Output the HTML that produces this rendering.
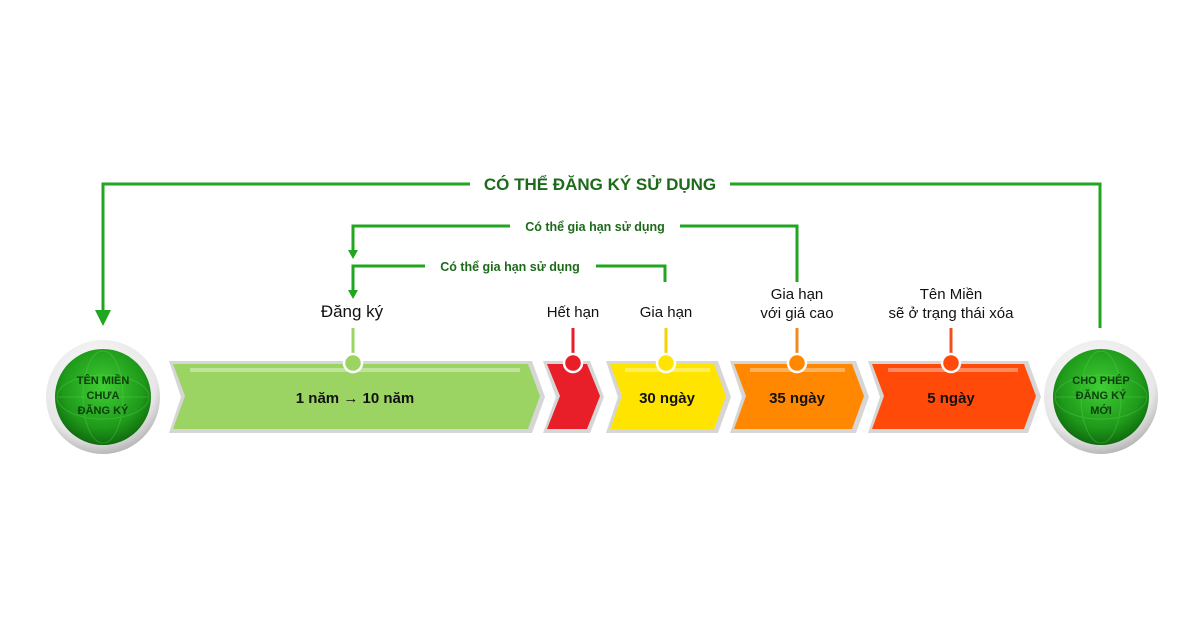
<!DOCTYPE html>
<html><head><meta charset="utf-8"><style>
html,body{margin:0;padding:0;background:#fff;width:1200px;height:630px;overflow:hidden}
text{font-family:"Liberation Sans","DejaVu Sans",sans-serif}
</style></head><body>
<svg width="1200" height="630" viewBox="0 0 1200 630" xmlns="http://www.w3.org/2000/svg">
<defs>
<radialGradient id="g" cx="50%" cy="40%" r="60%">
<stop offset="0" stop-color="#3fcf35"/><stop offset="0.7" stop-color="#1f9a1a"/><stop offset="1" stop-color="#0f6a0e"/></radialGradient>
<radialGradient id="ring" cx="45%" cy="35%" r="65%">
<stop offset="0" stop-color="#ffffff"/><stop offset="0.8" stop-color="#e6e6e6"/><stop offset="1" stop-color="#b8b8b8"/></radialGradient>
</defs>
<g stroke="#22a61f" stroke-width="3" fill="none">
<polyline points="103,310 103,184 470,184"/>
<polyline points="730,184 1100,184 1100,328"/>
<polyline points="353,250 353,226 510,226"/>
<polyline points="680,226 797,226 797,282"/>
<polyline points="353,290 353,266 425,266"/>
<polyline points="596,266 665,266 665,282"/>
</g>
<g fill="#22a61f">
<polygon points="95,310 111,310 103,326"/>
<polygon points="348,250 358,250 353,259"/>
<polygon points="348,290 358,290 353,299"/>
</g>
<text x="600" y="190" text-anchor="middle" font-size="17" font-weight="bold" fill="#1d6a1b">CÓ THỂ ĐĂNG KÝ SỬ DỤNG</text>
<text x="595" y="231" text-anchor="middle" font-size="12.5" font-weight="bold" fill="#1d6a1b">Có thể gia hạn sử dụng</text>
<text x="510" y="271" text-anchor="middle" font-size="12.5" font-weight="bold" fill="#1d6a1b">Có thể gia hạn sử dụng</text>

<g font-size="15" fill="#111" text-anchor="middle">
<text x="352" y="317" font-size="17">Đăng ký</text>
<text x="573" y="317">Hết hạn</text>
<text x="666" y="317">Gia hạn</text>
<text x="797" y="299">Gia hạn</text>
<text x="797" y="318">với giá cao</text>
<text x="951" y="299">Tên Miền</text>
<text x="951" y="318">sẽ ở trạng thái xóa</text>
</g>

<!-- arrow shadows -->
<g fill="#d6d6d6">
<polygon points="169,361 532,361 545,397 532,433 169,433 181,397"/>
<polygon points="543,361 590,361 604,397 590,433 543,433 556,397"/>
<polygon points="606,361 718,361 731,397 718,433 606,433 618,397"/>
<polygon points="730,361 856,361 869,397 856,433 730,433 742,397"/>
<polygon points="868,361 1028,361 1041,397 1028,433 868,433 880,397"/>
</g>
<polygon points="173,364 528,364 540,396 528,429 173,429 185,396" fill="#9cd464"/>
<polygon points="547,364 587,364 600,396 587,429 547,429 560,396" fill="#e81e28"/>
<polygon points="610,364 714,364 726,396 714,429 610,429 622,396" fill="#ffe400"/>
<polygon points="734,364 852,364 864,396 852,429 734,429 746,396" fill="#ff8800"/>
<polygon points="872,364 1024,364 1036,396 1024,429 872,429 884,396" fill="#ff4a0a"/>
<g fill="#ffffff" opacity="0.35">
<rect x="190" y="368" width="330" height="4"/>
<rect x="625" y="368" width="85" height="4"/>
<rect x="750" y="368" width="95" height="4"/>
<rect x="888" y="368" width="130" height="4"/>
</g>
<g font-size="15" font-weight="bold" fill="#111" text-anchor="middle">
<text x="355" y="403">1 năm → 10 năm</text>
<text x="667" y="403">30 ngày</text>
<text x="797" y="403">35 ngày</text>
<text x="951" y="403">5 ngày</text>
</g>

<!-- stems -->
<g stroke-width="3">
<line x1="353" y1="328" x2="353" y2="360" stroke="#9cd464"/>
<line x1="573" y1="328" x2="573" y2="360" stroke="#e81e28"/>
<line x1="666" y1="328" x2="666" y2="360" stroke="#f0d400"/>
<line x1="797" y1="328" x2="797" y2="360" stroke="#ee8a20"/>
<line x1="951" y1="328" x2="951" y2="360" stroke="#ee5020"/>
</g>
<g stroke="#fff" stroke-width="2.5">
<circle cx="353" cy="363" r="9" fill="#9cd464"/>
<circle cx="573" cy="363" r="9" fill="#e81e28"/>
<circle cx="666" cy="363" r="9" fill="#ffe400"/>
<circle cx="797" cy="363" r="9" fill="#ff8800"/>
<circle cx="951" cy="363" r="9" fill="#ff4a0a"/>
</g>

<!-- circles -->
<g>
<circle cx="103" cy="397" r="57" fill="url(#ring)"/>
<circle cx="103" cy="397" r="48" fill="url(#g)"/>
<g stroke="#5fd857" stroke-width="1" fill="none" opacity="0.35">
<ellipse cx="103" cy="397" rx="20" ry="46"/><line x1="57" y1="397" x2="149" y2="397"/><ellipse cx="103" cy="397" rx="46" ry="22"/>
</g>
<text x="103" y="384" text-anchor="middle" font-size="11" font-weight="bold" fill="#0c3d0c">TÊN MIỀN</text>
<text x="103" y="399" text-anchor="middle" font-size="11" font-weight="bold" fill="#0c3d0c">CHƯA</text>
<text x="103" y="414" text-anchor="middle" font-size="11" font-weight="bold" fill="#0c3d0c">ĐĂNG KÝ</text>
</g>
<g>
<circle cx="1101" cy="397" r="57" fill="url(#ring)"/>
<circle cx="1101" cy="397" r="48" fill="url(#g)"/>
<g stroke="#5fd857" stroke-width="1" fill="none" opacity="0.35">
<ellipse cx="1101" cy="397" rx="20" ry="46"/><line x1="1055" y1="397" x2="1147" y2="397"/><ellipse cx="1101" cy="397" rx="46" ry="22"/>
</g>
<text x="1101" y="384" text-anchor="middle" font-size="11" font-weight="bold" fill="#0c3d0c">CHO PHÉP</text>
<text x="1101" y="399" text-anchor="middle" font-size="11" font-weight="bold" fill="#0c3d0c">ĐĂNG KÝ</text>
<text x="1101" y="414" text-anchor="middle" font-size="11" font-weight="bold" fill="#0c3d0c">MỚI</text>
</g>
</svg>
</body></html>
